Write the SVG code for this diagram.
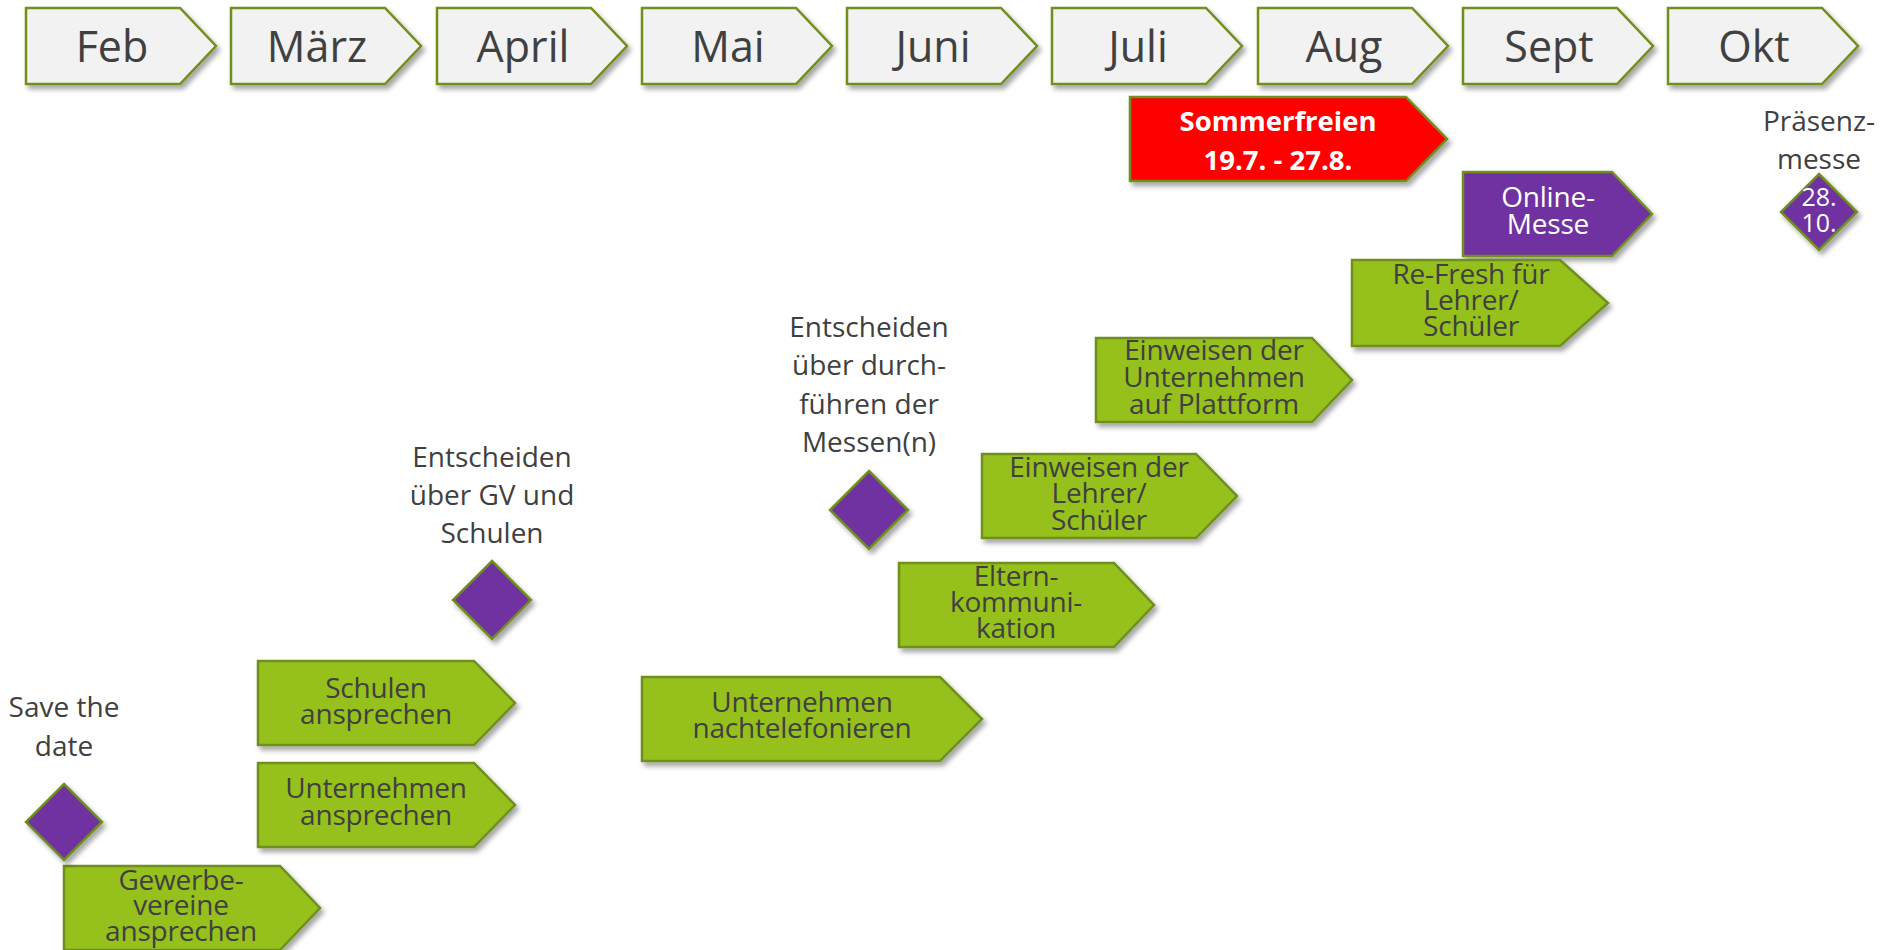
<svg xmlns="http://www.w3.org/2000/svg" width="1881" height="950" viewBox="0 0 1881 950">
<defs>
<filter id="sh" x="-10%" y="-10%" width="130%" height="140%">
<feDropShadow dx="3" dy="4" stdDeviation="2.5" flood-color="#000" flood-opacity="0.35"/>
</filter>
</defs>
<style>
.m{fill:#f2f2f2;stroke:#6f8f1e;stroke-width:2.5;filter:url(#sh)}
.g{fill:#96c11f;stroke:#6f8f1e;stroke-width:2.5;filter:url(#sh)}
.p{fill:#7030a0;stroke:#6f8f1e;stroke-width:2.5;filter:url(#sh)}
.r{fill:#ff0000;stroke:#6f8f1e;stroke-width:2.5;filter:url(#sh)}
text{font-family:"Open Sans","Noto Sans","Liberation Sans",sans-serif;text-anchor:middle;fill:#404040}
.mt{font-size:43px}
.bt{font-size:28px;letter-spacing:-0.2px}
.lt{font-size:28px}
.wt{fill:#fff}
</style>
<rect width="1881" height="950" fill="#fff"/>
<g id="connectors"/>
<g id="feb"><path class="m" d="M26 8 H180 L216 46 L180 84 H26 Z"/><text class="mt" x="112" y="62">Feb</text></g>
<g id="maerz"><path class="m" d="M231 8 H385 L421 46 L385 84 H231 Z"/><text class="mt" x="317" y="62">März</text></g>
<g id="april"><path class="m" d="M437 8 H591 L627 46 L591 84 H437 Z"/><text class="mt" x="523" y="62">April</text></g>
<g id="mai"><path class="m" d="M642 8 H796 L832 46 L796 84 H642 Z"/><text class="mt" x="728" y="62">Mai</text></g>
<g id="juni"><path class="m" d="M847 8 H1001 L1037 46 L1001 84 H847 Z"/><text class="mt" x="933" y="62">Juni</text></g>
<g id="juli"><path class="m" d="M1052 8 H1206 L1242 46 L1206 84 H1052 Z"/><text class="mt" x="1138" y="62">Juli</text></g>
<g id="aug"><path class="m" d="M1258 8 H1412 L1448 46 L1412 84 H1258 Z"/><text class="mt" x="1344" y="62">Aug</text></g>
<g id="sept"><path class="m" d="M1463 8 H1617 L1653 46 L1617 84 H1463 Z"/><text class="mt" x="1549" y="62">Sept</text></g>
<g id="okt"><path class="m" d="M1668 8 H1822 L1858 46 L1822 84 H1668 Z"/><text class="mt" x="1754" y="62">Okt</text></g>

<g id="sommerfreien"><path class="r" d="M1130 97 H1406 L1447 139 L1406 181 H1130 Z"/><text class="wt" x="1278" y="131" font-size="27.5" font-weight="bold">Sommerfreien</text><text class="wt" x="1278" y="170" font-size="27.5" font-weight="bold">19.7. - 27.8.</text></g>
<g id="online-messe"><path class="p" d="M1463 172 H1612 L1652 214 L1612 256 H1463 Z"/><text class="bt wt" x="1548" y="207">Online-</text><text class="bt wt" x="1548" y="234">Messe</text></g>
<g id="praesenzmesse"><text class="lt" x="1819" y="131">Präsenz-</text><text class="lt" x="1819" y="169">messe</text><path class="p" d="M1819 174 L1857 212 L1819 250 L1781 212 Z"/><text class="wt" x="1819" y="206" font-size="25">28.</text><text class="wt" x="1819" y="232" font-size="25">10.</text></g>
<g id="refresh"><path class="g" d="M1352 260 H1560 L1608 303 L1560 346 H1352 Z"/><text class="bt" x="1471" y="284">Re-Fresh für</text><text class="bt" x="1471" y="310">Lehrer/</text><text class="bt" x="1471" y="336">Schüler</text></g>
<g id="einweisen-unternehmen"><path class="g" d="M1096 338 H1312 L1352 380 L1312 422 H1096 Z"/><text class="bt" x="1214" y="360">Einweisen der</text><text class="bt" x="1214" y="387">Unternehmen</text><text class="bt" x="1214" y="414">auf Plattform</text></g>
<g id="einweisen-lehrer"><path class="g" d="M982 454 H1196 L1237 496 L1196 538 H982 Z"/><text class="bt" x="1099" y="477">Einweisen der</text><text class="bt" x="1099" y="503">Lehrer/</text><text class="bt" x="1099" y="530">Schüler</text></g>
<g id="elternkommunikation"><path class="g" d="M899 563 H1114 L1154 605 L1114 647 H899 Z"/><text class="bt" x="1016" y="586">Eltern-</text><text class="bt" x="1016" y="612">kommuni-</text><text class="bt" x="1016" y="638">kation</text></g>
<g id="nachtelefonieren"><path class="g" d="M642 677 H940 L982 719 L940 761 H642 Z"/><text class="bt" x="802" y="712">Unternehmen</text><text class="bt" x="802" y="738">nachtelefonieren</text></g>
<g id="schulen-ansprechen"><path class="g" d="M258 661 H474 L515 703 L474 745 H258 Z"/><text class="bt" x="376" y="698">Schulen</text><text class="bt" x="376" y="724">ansprechen</text></g>
<g id="unternehmen-ansprechen"><path class="g" d="M258 763 H474 L515 805 L474 847 H258 Z"/><text class="bt" x="376" y="798">Unternehmen</text><text class="bt" x="376" y="825">ansprechen</text></g>
<g id="gewerbevereine"><path class="g" d="M64 866 H280 L320 908 L280 950 H64 Z"/><text class="bt" x="181" y="890">Gewerbe-</text><text class="bt" x="181" y="915">vereine</text><text class="bt" x="181" y="941">ansprechen</text></g>
<g id="save-the-date"><text class="lt" x="64" y="717">Save the</text><text class="lt" x="64" y="756">date</text><path class="p" d="M64 784 L102 822 L64 860 L26 822 Z"/></g>
<g id="entscheiden-gv"><text class="lt" x="492" y="467">Entscheiden</text><text class="lt" x="492" y="505">über GV und</text><text class="lt" x="492" y="543">Schulen</text><path class="p" d="M492 561 L531 600 L492 639 L453 600 Z"/></g>
<g id="entscheiden-messen"><text class="lt" x="869" y="337">Entscheiden</text><text class="lt" x="869" y="375">über durch-</text><text class="lt" x="869" y="414">führen der</text><text class="lt" x="869" y="452">Messen(n)</text><path class="p" d="M869 471 L908 510 L869 549 L830 510 Z"/></g>
</svg>
